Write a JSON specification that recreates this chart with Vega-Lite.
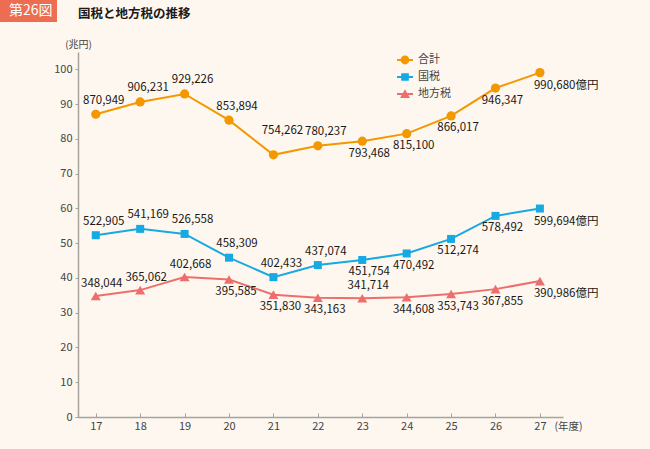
{
  "$schema": "https://vega.github.io/schema/vega-lite/v6.json",
  "width": 485,
  "height": 365,
  "autosize": "none",
  "padding": {"left": 78, "top": 52, "right": 87, "bottom": 32},
  "background": "#fdf7f0",
  "title": {
    "text": "国税と地方税の推移",
    "anchor": "start",
    "frame": "group",
    "baseline": "middle",
    "offset": -26,
    "fontSize": 12.5,
    "fontWeight": "bold",
    "color": "#231815",
    "font": "Noto Sans CJK JP"
  },
  "config": {
    "view": {"stroke": null},
    "font": "Noto Sans CJK JP",
    "text": {"font": "Noto Sans CJK JP"}
  },
  "data": {
    "values": [
      {"year": 17, "series": "合計", "value": 870949},
      {"year": 18, "series": "合計", "value": 906231},
      {"year": 19, "series": "合計", "value": 929226},
      {"year": 20, "series": "合計", "value": 853894},
      {"year": 21, "series": "合計", "value": 754262},
      {"year": 22, "series": "合計", "value": 780237},
      {"year": 23, "series": "合計", "value": 793468},
      {"year": 24, "series": "合計", "value": 815100},
      {"year": 25, "series": "合計", "value": 866017},
      {"year": 26, "series": "合計", "value": 946347},
      {"year": 27, "series": "合計", "value": 990680},
      {"year": 17, "series": "国税", "value": 522905},
      {"year": 18, "series": "国税", "value": 541169},
      {"year": 19, "series": "国税", "value": 526558},
      {"year": 20, "series": "国税", "value": 458309},
      {"year": 21, "series": "国税", "value": 402433},
      {"year": 22, "series": "国税", "value": 437074},
      {"year": 23, "series": "国税", "value": 451754},
      {"year": 24, "series": "国税", "value": 470492},
      {"year": 25, "series": "国税", "value": 512274},
      {"year": 26, "series": "国税", "value": 578492},
      {"year": 27, "series": "国税", "value": 599694},
      {"year": 17, "series": "地方税", "value": 348044},
      {"year": 18, "series": "地方税", "value": 365062},
      {"year": 19, "series": "地方税", "value": 402668},
      {"year": 20, "series": "地方税", "value": 395585},
      {"year": 21, "series": "地方税", "value": 351830},
      {"year": 22, "series": "地方税", "value": 343163},
      {"year": 23, "series": "地方税", "value": 341714},
      {"year": 24, "series": "地方税", "value": 344608},
      {"year": 25, "series": "地方税", "value": 353743},
      {"year": 26, "series": "地方税", "value": 367855},
      {"year": 27, "series": "地方税", "value": 390986}
    ]
  },
  "encoding": {
    "x": {
      "field": "year",
      "type": "quantitative",
      "scale": {"domain": [16.6, 27.52], "nice": false, "zero": false},
      "axis": {
        "values": [17, 18, 19, 20, 21, 22, 23, 24, 25, 26, 27],
        "format": "d",
        "grid": false,
        "domainColor": "#a8a29c",
        "domainWidth": 1.5,
        "tickColor": "#a8a29c",
        "tickWidth": 1,
        "tickSize": -4,
        "labelPadding": 7,
        "labelFontSize": 11,
        "labelColor": "#444444",
        "labelFont": "Noto Sans CJK JP",
        "title": "(年度)",
        "titleX": 476,
        "titleY": 9,
        "titleAlign": "left",
        "titleBaseline": "middle",
        "titleFontSize": 10.5,
        "titleFontWeight": "normal",
        "titleColor": "#444444",
        "titleFont": "Noto Sans CJK JP"
      }
    },
    "y": {
      "field": "value",
      "type": "quantitative",
      "scale": {"domain": [0, 1050000], "nice": false},
      "axis": {
        "values": [0, 100000, 200000, 300000, 400000, 500000, 600000, 700000, 800000, 900000, 1000000],
        "labelExpr": "format(datum.value / 10000, 'd')",
        "grid": false,
        "domainColor": "#a8a29c",
        "domainWidth": 1.5,
        "tickColor": "#a8a29c",
        "tickSize": 3,
        "labelPadding": 3,
        "labelFontSize": 11,
        "labelColor": "#444444",
        "labelFont": "Noto Sans CJK JP",
        "title": "(兆円)",
        "titleAngle": 0,
        "titleX": 0,
        "titleY": -8,
        "titleAlign": "center",
        "titleBaseline": "middle",
        "titleFontSize": 10,
        "titleFontWeight": "normal",
        "titleColor": "#444444",
        "titleFont": "Noto Sans CJK JP"
      }
    },
    "color": {
      "field": "series",
      "type": "nominal",
      "scale": {"domain": ["合計", "国税", "地方税"], "range": ["#f39800", "#17a9e1", "#ee6e6c"]},
      "legend": null
    }
  },
  "layer": [
    {
      "mark": {"type": "line", "strokeWidth": 2},
      "encoding": {
        "color": {
          "field": "series",
          "type": "nominal",
          "legend": {
            "orient": "none",
            "legendX": 319,
            "legendY": 0,
            "title": null,
            "symbolSize": 256,
            "symbolType": "circle",
            "labelFontSize": 11,
            "labelColor": "#444444",
            "labelFont": "Noto Sans CJK JP",
            "labelOffset": 5,
            "rowPadding": 4,
            "padding": 0,
            "encode": {
              "symbols": {
                "update": {
                  "shape": {"signal": "datum.value === '合計' ? 'M-1,-0.12H1V0.12H-1Z M0.55,0A0.55,0.55 0 1,1 -0.55,0A0.55,0.55 0 1,1 0.55,0Z' : datum.value === '国税' ? 'M-1,-0.12H1V0.12H-1Z M-0.48,-0.48H0.48V0.48H-0.48Z' : 'M-1,-0.12H1V0.12H-1Z M0,-0.58L0.62,0.5H-0.62Z'"},
                  "fill": {"signal": "scale('color', datum.value)"},
                  "stroke": {"value": "transparent"},
                  "strokeWidth": {"value": 0},
                  "opacity": {"value": 1}
                }
              }
            }
          }
        }
      }
    },
    {
      "transform": [{"filter": "datum.series === '合計'"}],
      "mark": {"type": "point", "filled": true, "opacity": 1, "shape": "circle", "size": 85}
    },
    {
      "transform": [{"filter": "datum.series === '国税'"}],
      "mark": {"type": "point", "filled": true, "opacity": 1, "shape": "square", "size": 64}
    },
    {
      "transform": [{"filter": "datum.series === '地方税'"}],
      "mark": {"type": "point", "filled": true, "opacity": 1, "shape": "triangle-up", "size": 100}
    },
    {
      "transform": [
        {"filter": "datum.year < 27 && datum.series !== '地方税' && datum.year <= 22 && !(datum.series === '合計' && datum.year === 21)"}
      ],
      "mark": {"type": "text", "dx": 8, "dy": -13.5, "fontSize": 11.5, "baseline": "middle", "align": "center"},
      "encoding": {"text": {"field": "value", "type": "quantitative", "format": ","}, "color": {"value": "#231815"}}
    },
    {
      "transform": [
        {"filter": "datum.series === '地方税' && (datum.year <= 19 || datum.year === 23)"}
      ],
      "mark": {"type": "text", "dx": 6, "dy": -12, "fontSize": 11.5, "baseline": "middle", "align": "center"},
      "encoding": {"text": {"field": "value", "type": "quantitative", "format": ","}, "color": {"value": "#231815"}}
    },
    {
      "transform": [
        {"filter": "datum.series === '合計' && datum.year === 21"}
      ],
      "mark": {"type": "text", "dx": 9, "dy": -24, "fontSize": 11.5, "baseline": "middle", "align": "center"},
      "encoding": {"text": {"field": "value", "type": "quantitative", "format": ","}, "color": {"value": "#231815"}}
    },
    {
      "transform": [
        {"filter": "datum.year < 27 && ((datum.series !== '地方税' && datum.year >= 23) || (datum.series === '地方税' && datum.year >= 20 && datum.year !== 23))"}
      ],
      "mark": {"type": "text", "dx": 7, "dy": 12.5, "fontSize": 11.5, "baseline": "middle", "align": "center"},
      "encoding": {"text": {"field": "value", "type": "quantitative", "format": ","}, "color": {"value": "#231815"}}
    },
    {
      "transform": [
        {"filter": "datum.year === 27"}
      ],
      "mark": {"type": "text", "dx": -6, "dy": 13, "fontSize": 11.5, "baseline": "middle", "align": "left", "text": {"expr": "format(datum.value, ',') + '億円'"}},
      "encoding": {"color": {"value": "#231815"}}
    },
    {
      "transform": [{"filter": "datum.year === 17 && datum.series === '合計'"}],
      "mark": {"type": "point", "opacity": 0, "size": 0},
      "encoding": {
        "color": {"value": "transparent"},
        "strokeDash": {
          "datum": "第26図",
          "type": "nominal",
          "scale": {"domain": ["第26図"], "range": [[1, 0]]},
          "legend": {
            "orient": "none",
            "legendX": -78,
            "legendY": -52,
            "title": null,
            "fillColor": "#ec6d51",
            "padding": 4,
            "symbolType": "circle",
            "symbolSize": 0,
            "symbolOpacity": 0,
            "symbolStrokeWidth": 0,
            "labelColor": "#ffffff",
            "labelFontSize": 14,
            "labelFont": "Noto Sans CJK JP",
            "labelFontWeight": "normal",
            "labelOffset": -9,
            "labelLimit": 0,
            "encode": {
              "symbols": {"update": {"size": {"value": 0}, "opacity": {"value": 0}}}
            }
          }
        }
      }
    }
  ]
}
